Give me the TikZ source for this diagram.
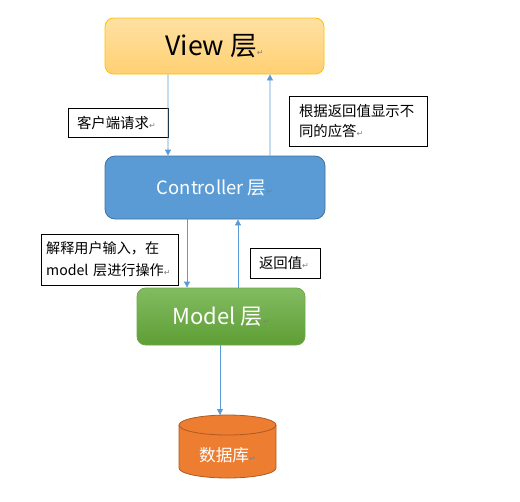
\documentclass[tikz,border=0pt]{standalone}
\usepackage{fontspec}
\setmainfont{Noto Sans CJK SC}
\newfontfamily\markfont{DejaVu Sans}
\usetikzlibrary{arrows.meta,shadings}
\definecolor{arrowblue}{HTML}{5B9BD5}
\definecolor{ctrlfill}{HTML}{5B9BD5}
\definecolor{ctrlborder}{HTML}{41719C}
\definecolor{viewtop}{HTML}{FFE1A3}
\definecolor{viewbot}{HTML}{FFD072}
\definecolor{viewborder}{HTML}{FFC000}
\definecolor{modeltop}{HTML}{82BC62}
\definecolor{modelbot}{HTML}{5E9E34}
\definecolor{modelborder}{HTML}{6FA84A}
\definecolor{dbfill}{HTML}{ED7D31}
\definecolor{dbborder}{HTML}{AE5A21}
\newcommand{\pmark}{{\markfont\fontsize{6pt}{6pt}\selectfont\textcolor{gray}{↵}}}
\tikzset{
  layerbox/.style={rounded corners=6.5pt, line width=0.6pt, inner sep=0pt},
  notebox/.style={draw=black, line width=0.6pt, fill=white, inner sep=0pt, align=left,
    font=\fontsize{10.8pt}{14.5pt}\selectfont},
  arr/.style={draw=arrowblue, line width=0.6pt, -{Triangle[width=4.5pt,length=4.5pt]}},
}
\begin{document}
\begin{tikzpicture}[x=0.75pt,y=-0.75pt]
\useasboundingbox (0,0) rectangle (520,501);
% layers
\node[layerbox, draw=viewborder, top color=viewtop, bottom color=viewbot,
  minimum width=164.25pt, minimum height=42pt,
  font=\fontsize{20pt}{22pt}\selectfont] (view) at (214.5,46) {View 层\pmark};
\node[layerbox, draw=ctrlborder, fill=ctrlfill, text=white, rounded corners=7.5pt,
  minimum width=165pt, minimum height=47.25pt,
  font=\fontsize{13.8pt}{15pt}\selectfont] (ctrl) at (215,187.5) {Controller 层\pmark};
\node[layerbox, draw=modelborder, top color=modeltop, bottom color=modelbot, text=white,
  minimum width=126pt, minimum height=42.75pt,
  font=\fontsize{16.5pt}{18pt}\selectfont] (model) at (221,316.5) {Model 层\pmark};
% database cylinder
\fill[dbfill] (179,425) -- (179,468) arc[start angle=180,end angle=0,x radius=48.5,y radius=10] -- (276,425)
  arc[start angle=0,end angle=-180,x radius=48.5,y radius=10] -- cycle;
\draw[dbborder, line width=0.6pt] (179,425) -- (179,468) arc[start angle=180,end angle=0,x radius=48.5,y radius=10] -- (276,425);
\draw[dbborder, line width=0.6pt] (227.5,425) ellipse[x radius=48.5, y radius=10];
\coordinate (dbtop) at (220,415);
\node[text=white, font=\fontsize{12.5pt}{14pt}\selectfont] (db) at (227.5,455) {数据库\pmark};
% notes
\node[notebox, minimum width=75pt, minimum height=21.75pt, text width=61.5pt] (n1) at (118,122.5) {客户端请求\pmark};
\node[notebox, minimum width=103.5pt, minimum height=37.5pt, text width=88.5pt] (n2) at (358,121) {根据返回值显示不\\同的应答\pmark};
\node[notebox, minimum width=102.75pt, minimum height=38.25pt, text width=95pt,
  font=\fontsize{10.6pt}{16.5pt}\selectfont] (n3) at (109.5,259.5) {解释用户输入，在\\model 层进行操作\rlap{\pmark}};
\node[notebox, minimum width=52.5pt, minimum height=22.5pt, text width=39pt] (n4) at (285,263) {返回值\pmark};
% connectors
\draw[arr] ([xshift=-34.9pt]view.south) -- ([xshift=-35.25pt]ctrl.north);
\draw[arr] ([xshift=41.25pt]ctrl.north) -- ([xshift=41.6pt]view.south);
\draw[arr] ([xshift=-21pt]ctrl.south) -- ([xshift=-25.5pt]model.north);
\draw[arr] ([xshift=12.75pt]model.north) -- ([xshift=17.25pt]ctrl.south);
\draw[arr] ([xshift=-0.75pt]model.south) -- (dbtop);
\end{tikzpicture}
\end{document}
